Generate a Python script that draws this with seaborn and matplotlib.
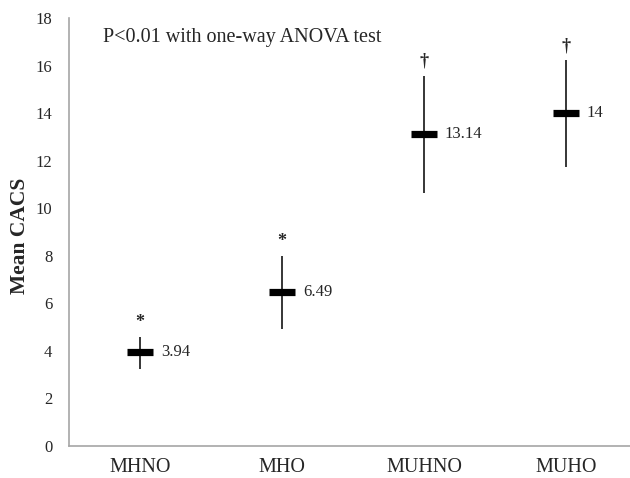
import matplotlib
matplotlib.use("Agg")
import matplotlib.pyplot as plt
import seaborn as sns
import pandas as pd

categories = ["MHNO", "MHO", "MUHNO", "MUHO"]
means = [3.94, 6.49, 13.14, 14.0]
lows = [3.22, 4.90, 10.66, 11.74]
highs = [4.59, 8.00, 15.56, 16.22]
mean_labels = ["3.94", "6.49", "13.14", "14"]
marks = ["*", "*", "\u2020", "\u2020"]
yticks = [0, 2, 4, 6, 8, 10, 12, 14, 16, 18]

sns.set_style("white")
plt.rcParams["font.family"] = ["Liberation Serif", "DejaVu Serif"]

df = pd.DataFrame({"group": categories, "mean": means, "low": lows, "high": highs})

fig = plt.figure(figsize=(6.3, 4.78), dpi=100)
ax = fig.add_axes([69 / 630, 32 / 478, 568 / 630, 428 / 478])

ax.vlines(x=range(len(df)), ymin=df["low"], ymax=df["high"], color="black", lw=1.1, zorder=2)
sns.pointplot(data=df, x="group", y="mean", order=categories, errorbar=None,
              linestyle="none", marker="_", markersize=19, markeredgewidth=5.2,
              color="black", ax=ax, zorder=3)

for i, (m, lab, hi, mk) in enumerate(zip(means, mean_labels, highs, marks)):
    ax.annotate(lab, (i, m), xytext=(15, 0), textcoords="offset points",
                va="center", ha="left", fontsize=12)
    ax.annotate(mk, (i, hi), xytext=(0, 10.5), textcoords="offset points",
                va="center", ha="center", fontsize=13, fontweight="bold")

ax.set_xlim(-0.5, 3.5)
ax.set_ylim(0, 18)
ax.set_yticks(yticks)
ax.set_yticklabels([str(t) for t in yticks], fontsize=12)
ax.tick_params(axis="y", length=0, pad=12)
ax.tick_params(axis="x", length=0, pad=9, labelsize=14.5)
ax.set_xlabel("")
ax.set_ylabel("Mean CACS", fontsize=15.5, fontweight="bold")
ax.yaxis.set_label_coords(-0.068, 0.49)

for s in ["top", "right"]:
    ax.spines[s].set_visible(False)
for s in ["left", "bottom"]:
    ax.spines[s].set_color("#a6a6a6")
    ax.spines[s].set_linewidth(1.2)

ax.text(-0.26, 17.2, "P<0.01 with one-way ANOVA test", fontsize=14.5,
        va="center", ha="left")

fig.savefig("out.png", dpi=100)
